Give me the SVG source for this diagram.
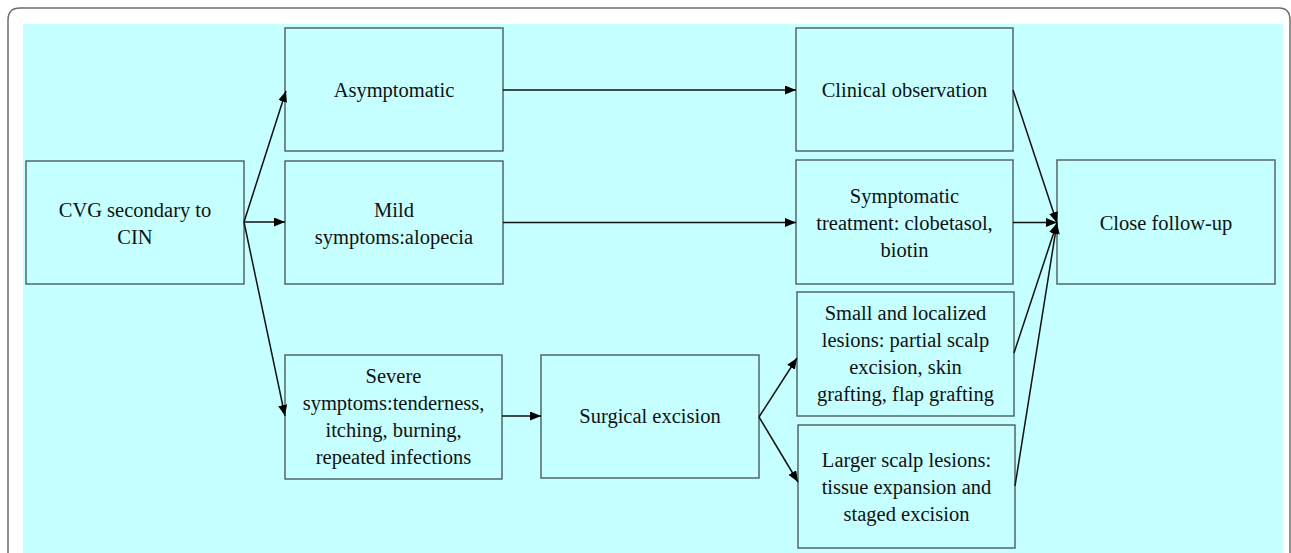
<svg xmlns="http://www.w3.org/2000/svg" width="1291" height="553" viewBox="0 0 1291 553">
<style>
.box{fill:none;stroke:#4e5c5c;stroke-width:1.4}
.t{font-family:"Liberation Serif","Times New Roman",serif;font-size:20.5px;fill:#111;text-anchor:middle}
.c{fill:none;stroke:#111;stroke-width:1.5}
</style>
<defs>
<marker id="ah" markerUnits="userSpaceOnUse" markerWidth="11" markerHeight="9" refX="11" refY="4.5" orient="auto">
<path d="M0,0 L11,4.5 L0,9 z" fill="#000"/>
</marker>
</defs>
<rect width="1291" height="553" fill="#fff"/>
<path d="M8,553 L8,20 Q8,8 20,8 L1279,8 Q1290,8 1290,20 L1290,553" fill="none" stroke="#6e6e6e" stroke-width="1.5"/>
<rect x="23" y="24" width="1260" height="529" fill="#c6ffff"/>

<g id="n-cvg"><rect class="box" x="26" y="161" width="218" height="123"/><text class="t" x="135" y="217">CVG secondary to</text><text class="t" x="135" y="244">CIN</text></g>
<g id="n-asym"><rect class="box" x="285" y="28" width="218" height="123"/><text class="t" x="394" y="97">Asymptomatic</text></g>
<g id="n-mild"><rect class="box" x="285" y="161" width="218" height="123"/><text class="t" x="394" y="217">Mild</text><text class="t" x="394" y="244">symptoms:alopecia</text></g>
<g id="n-severe"><rect class="box" x="285" y="355" width="217" height="124"/><text class="t" x="393.5" y="383">Severe</text><text class="t" x="393.5" y="410">symptoms:tenderness,</text><text class="t" x="393.5" y="437">itching, burning,</text><text class="t" x="393.5" y="464">repeated infections</text></g>
<g id="n-surgical"><rect class="box" x="541" y="355" width="218" height="123"/><text class="t" x="650" y="423">Surgical excision</text></g>
<g id="n-clinical"><rect class="box" x="796" y="28" width="217" height="123"/><text class="t" x="904.5" y="97">Clinical observation</text></g>
<g id="n-symptomatic"><rect class="box" x="796" y="160" width="217" height="124"/><text class="t" x="904.5" y="203">Symptomatic</text><text class="t" x="904.5" y="230">treatment: clobetasol,</text><text class="t" x="904.5" y="257">biotin</text></g>
<g id="n-small"><rect class="box" x="797" y="292" width="217" height="124"/><text class="t" x="905.5" y="320">Small and localized</text><text class="t" x="905.5" y="347">lesions: partial scalp</text><text class="t" x="905.5" y="374">excision, skin</text><text class="t" x="905.5" y="401">grafting, flap grafting</text></g>
<g id="n-larger"><rect class="box" x="798" y="425" width="217" height="123"/><text class="t" x="906.5" y="467">Larger scalp lesions:</text><text class="t" x="906.5" y="494">tissue expansion and</text><text class="t" x="906.5" y="521">staged excision</text></g>
<g id="n-close"><rect class="box" x="1057" y="160" width="218" height="124"/><text class="t" x="1166" y="230">Close follow-up</text></g>

<g id="connectors">
<line class="c" x1="244" y1="222" x2="286" y2="91" marker-end="url(#ah)"/>
<line class="c" x1="244" y1="222" x2="285" y2="222" marker-end="url(#ah)"/>
<line class="c" x1="244" y1="222" x2="285" y2="416" marker-end="url(#ah)"/>
<line class="c" x1="503" y1="90" x2="796" y2="90" marker-end="url(#ah)"/>
<line class="c" x1="503" y1="222.5" x2="796" y2="222.5" marker-end="url(#ah)"/>
<line class="c" x1="502" y1="416" x2="541" y2="416" marker-end="url(#ah)"/>
<line class="c" x1="759" y1="417" x2="797" y2="358" marker-end="url(#ah)"/>
<line class="c" x1="759" y1="417" x2="798" y2="482" marker-end="url(#ah)"/>
<line class="c" x1="1013" y1="90" x2="1057" y2="223" marker-end="url(#ah)"/>
<line class="c" x1="1013" y1="222.5" x2="1057" y2="222.5" marker-end="url(#ah)"/>
<line class="c" x1="1014" y1="353" x2="1057" y2="223" marker-end="url(#ah)"/>
<line class="c" x1="1015" y1="486" x2="1057" y2="223" marker-end="url(#ah)"/>
</g>
</svg>
